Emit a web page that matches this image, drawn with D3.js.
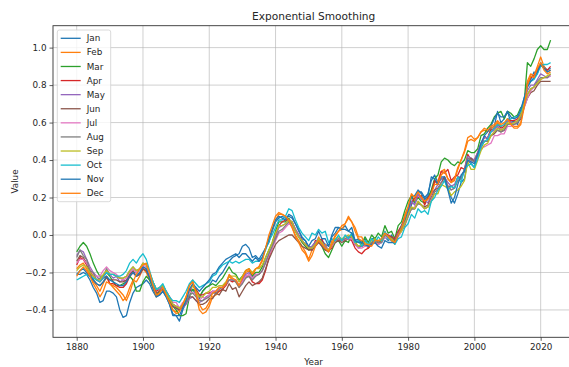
<!DOCTYPE html>
<html><head><meta charset="utf-8">
<script src="https://cdn.jsdelivr.net/npm/d3@7"></script>
<style>
html,body{margin:0;padding:0;background:#fff;overflow:hidden}
text{font-family:"DejaVu Sans",sans-serif;fill:#262626}
</style></head>
<body><svg id="c" width="569" height="367"></svg>
<script>
const firstYear = 1880, lastYear = 2023;
const months = ["Jan","Feb","Mar","Apr","May","Jun","Jul","Aug","Sep","Oct","Nov","Dec"];
const xTicks = [1880,1900,1920,1940,1960,1980,2000,2020];
const yTicks = [-0.4,-0.2,0.0,0.2,0.4,0.6,0.8,1.0];

const jan = [-0.21,-0.21,-0.20,-0.21,-0.24,-0.28,-0.31,-0.36,-0.35,-0.30,
-0.30,-0.31,-0.33,-0.40,-0.44,-0.43,-0.36,-0.31,-0.28,-0.27,
-0.26,-0.24,-0.26,-0.30,-0.33,-0.32,-0.30,-0.33,-0.37,-0.43,
-0.43,-0.46,-0.40,-0.36,-0.30,-0.29,-0.32,-0.34,-0.30,-0.28,
-0.27,-0.24,-0.25,-0.22,-0.20,-0.17,-0.14,-0.12,-0.11,-0.10,
-0.06,-0.05,-0.07,-0.12,-0.11,-0.13,-0.10,-0.07,-0.04,0.02,
0.07,0.09,0.10,0.09,0.10,0.09,0.06,0.03,-0.02,-0.03,
-0.07,-0.06,-0.04,-0.02,-0.03,-0.05,-0.06,0.00,0.04,0.04,
0.03,0.05,0.02,0.04,-0.03,-0.02,-0.04,-0.02,-0.06,-0.02,
-0.02,-0.05,-0.04,-0.01,-0.03,0.00,-0.04,0.01,0.03,0.08,
0.10,0.16,0.20,0.23,0.23,0.20,0.22,0.29,0.32,0.28,
0.30,0.30,0.25,0.20,0.17,0.22,0.28,0.30,0.40,0.38,
0.36,0.43,0.46,0.53,0.51,0.57,0.58,0.66,0.60,0.62,
0.66,0.60,0.61,0.59,0.64,0.71,0.81,0.83,0.87,0.86,
0.92,0.90,0.88,0.89];
const feb = [-0.18,-0.16,-0.15,-0.18,-0.21,-0.25,-0.27,-0.30,-0.26,-0.22,
-0.26,-0.28,-0.30,-0.32,-0.35,-0.33,-0.28,-0.24,-0.25,-0.22,
-0.18,-0.20,-0.24,-0.28,-0.33,-0.31,-0.28,-0.31,-0.35,-0.40,
-0.41,-0.40,-0.37,-0.33,-0.27,-0.24,-0.32,-0.40,-0.42,-0.41,
-0.38,-0.33,-0.32,-0.30,-0.29,-0.26,-0.22,-0.24,-0.25,-0.28,
-0.24,-0.20,-0.19,-0.22,-0.18,-0.17,-0.13,-0.07,-0.02,0.03,
0.08,0.11,0.11,0.10,0.07,0.04,0.00,-0.03,-0.06,-0.09,
-0.13,-0.08,-0.06,-0.01,-0.05,-0.05,-0.09,-0.03,-0.01,0.02,
0.03,0.06,0.09,0.07,0.02,-0.02,-0.03,-0.05,-0.07,-0.05,
-0.02,-0.05,-0.02,0.02,-0.02,-0.01,-0.05,0.02,0.04,0.11,
0.15,0.21,0.18,0.22,0.20,0.18,0.20,0.23,0.28,0.29,
0.34,0.35,0.30,0.28,0.29,0.35,0.40,0.45,0.52,0.53,
0.51,0.52,0.55,0.56,0.55,0.57,0.58,0.60,0.58,0.59,
0.62,0.60,0.58,0.58,0.60,0.70,0.82,0.86,0.85,0.90,
0.95,0.90,0.87,0.88];
const mar = [-0.09,-0.06,-0.04,-0.06,-0.10,-0.15,-0.19,-0.22,-0.22,-0.20,
-0.22,-0.25,-0.27,-0.27,-0.26,-0.25,-0.22,-0.24,-0.30,-0.30,
-0.25,-0.22,-0.24,-0.28,-0.32,-0.30,-0.28,-0.32,-0.35,-0.38,
-0.40,-0.43,-0.43,-0.42,-0.33,-0.29,-0.30,-0.33,-0.30,-0.28,
-0.27,-0.26,-0.27,-0.25,-0.23,-0.20,-0.17,-0.20,-0.21,-0.24,
-0.22,-0.19,-0.18,-0.22,-0.20,-0.20,-0.17,-0.12,-0.08,-0.04,
0.02,0.07,0.07,0.07,0.09,0.06,0.02,-0.01,-0.04,-0.06,
-0.08,-0.07,-0.05,-0.03,-0.06,-0.10,-0.12,-0.08,-0.04,-0.03,
-0.06,-0.03,-0.04,0.01,-0.05,-0.03,-0.05,-0.01,-0.04,0.00,
-0.02,0.01,-0.01,0.05,0.01,0.02,-0.02,0.05,0.07,0.13,
0.18,0.21,0.17,0.20,0.18,0.17,0.20,0.24,0.30,0.32,
0.39,0.41,0.40,0.38,0.37,0.39,0.38,0.40,0.45,0.44,
0.44,0.46,0.53,0.54,0.57,0.59,0.63,0.65,0.66,0.62,
0.66,0.65,0.63,0.64,0.68,0.70,0.92,0.90,0.94,0.99,
1.01,0.99,0.99,1.04];
const apr = [-0.16,-0.12,-0.13,-0.16,-0.19,-0.22,-0.24,-0.25,-0.23,-0.22,
-0.26,-0.26,-0.27,-0.28,-0.28,-0.26,-0.22,-0.20,-0.22,-0.21,
-0.18,-0.19,-0.22,-0.27,-0.30,-0.29,-0.27,-0.30,-0.33,-0.37,
-0.38,-0.40,-0.38,-0.35,-0.30,-0.27,-0.29,-0.32,-0.32,-0.31,
-0.31,-0.30,-0.31,-0.30,-0.29,-0.27,-0.24,-0.25,-0.24,-0.27,
-0.25,-0.22,-0.22,-0.25,-0.26,-0.26,-0.24,-0.19,-0.12,-0.07,
0.00,0.05,0.07,0.08,0.08,0.07,0.03,0.00,-0.03,-0.05,
-0.06,-0.08,-0.03,-0.03,-0.02,-0.08,-0.08,-0.07,-0.02,-0.03,
-0.03,-0.02,-0.02,-0.03,-0.07,-0.09,-0.10,-0.08,-0.07,-0.05,
-0.03,-0.04,-0.03,0.01,0.00,-0.01,-0.02,0.02,0.05,0.09,
0.14,0.17,0.20,0.20,0.21,0.16,0.20,0.22,0.29,0.27,
0.34,0.33,0.35,0.29,0.31,0.32,0.36,0.35,0.43,0.40,
0.40,0.44,0.49,0.52,0.52,0.56,0.57,0.59,0.57,0.58,
0.62,0.61,0.61,0.62,0.65,0.72,0.80,0.84,0.85,0.88,
0.91,0.89,0.88,0.90];
const may = [-0.11,-0.08,-0.09,-0.13,-0.17,-0.20,-0.22,-0.24,-0.22,-0.20,
-0.21,-0.23,-0.22,-0.25,-0.24,-0.25,-0.20,-0.20,-0.20,-0.21,
-0.17,-0.18,-0.21,-0.25,-0.29,-0.29,-0.28,-0.31,-0.34,-0.38,
-0.39,-0.40,-0.39,-0.37,-0.34,-0.33,-0.35,-0.36,-0.35,-0.33,
-0.32,-0.30,-0.30,-0.28,-0.28,-0.26,-0.24,-0.24,-0.24,-0.27,
-0.24,-0.21,-0.20,-0.23,-0.21,-0.21,-0.19,-0.14,-0.10,-0.06,
-0.01,0.04,0.05,0.06,0.08,0.07,0.03,0.00,-0.03,-0.05,
-0.07,-0.06,-0.04,-0.02,-0.04,-0.06,-0.08,-0.05,-0.03,-0.02,
-0.02,-0.02,-0.01,-0.02,-0.05,-0.07,-0.06,-0.05,-0.06,-0.04,
-0.03,-0.04,-0.03,0.01,-0.01,-0.02,-0.03,0.01,0.03,0.07,
0.11,0.18,0.16,0.22,0.19,0.19,0.17,0.22,0.24,0.27,
0.30,0.31,0.28,0.26,0.27,0.31,0.31,0.35,0.42,0.41,
0.40,0.44,0.49,0.52,0.52,0.55,0.56,0.58,0.56,0.57,
0.61,0.60,0.60,0.61,0.64,0.70,0.77,0.80,0.80,0.83,
0.86,0.85,0.84,0.85];
const jun = [-0.14,-0.11,-0.12,-0.15,-0.20,-0.24,-0.26,-0.27,-0.25,-0.23,
-0.24,-0.24,-0.24,-0.25,-0.25,-0.24,-0.21,-0.19,-0.22,-0.21,
-0.18,-0.19,-0.23,-0.27,-0.31,-0.30,-0.29,-0.32,-0.35,-0.38,
-0.39,-0.40,-0.38,-0.36,-0.33,-0.33,-0.35,-0.37,-0.37,-0.36,
-0.34,-0.34,-0.31,-0.32,-0.29,-0.30,-0.26,-0.29,-0.28,-0.33,
-0.30,-0.27,-0.25,-0.27,-0.26,-0.25,-0.23,-0.18,-0.13,-0.09,
-0.05,-0.03,-0.02,-0.01,0.00,0.00,-0.02,-0.04,-0.06,-0.07,
-0.08,-0.08,-0.06,-0.04,-0.06,-0.08,-0.09,-0.06,-0.04,-0.03,
-0.04,-0.03,-0.02,-0.02,-0.05,-0.06,-0.06,-0.05,-0.06,-0.04,
-0.03,-0.04,-0.03,0.00,-0.01,-0.01,-0.03,0.00,0.02,0.05,
0.10,0.14,0.14,0.17,0.16,0.15,0.16,0.20,0.24,0.25,
0.28,0.31,0.26,0.26,0.25,0.31,0.30,0.35,0.39,0.41,
0.39,0.43,0.47,0.50,0.50,0.53,0.54,0.56,0.55,0.56,
0.59,0.59,0.59,0.60,0.62,0.68,0.73,0.76,0.77,0.80,
0.82,0.82,0.82,0.82];
const jul = [-0.15,-0.13,-0.13,-0.15,-0.18,-0.21,-0.22,-0.22,-0.19,-0.17,
-0.19,-0.20,-0.21,-0.23,-0.24,-0.23,-0.20,-0.18,-0.20,-0.19,
-0.16,-0.17,-0.21,-0.25,-0.29,-0.28,-0.27,-0.30,-0.33,-0.36,
-0.36,-0.39,-0.36,-0.36,-0.30,-0.31,-0.31,-0.35,-0.33,-0.34,
-0.32,-0.30,-0.30,-0.28,-0.28,-0.26,-0.24,-0.24,-0.24,-0.27,
-0.25,-0.22,-0.21,-0.23,-0.21,-0.21,-0.19,-0.15,-0.11,-0.07,
-0.03,0.01,0.02,0.04,0.06,0.05,0.02,-0.01,-0.03,-0.05,
-0.07,-0.07,-0.05,-0.03,-0.05,-0.07,-0.08,-0.06,-0.03,-0.02,
-0.03,-0.02,-0.02,-0.02,-0.05,-0.07,-0.07,-0.06,-0.06,-0.05,
-0.04,-0.05,-0.04,-0.01,-0.02,-0.03,-0.04,-0.01,0.02,0.06,
0.10,0.14,0.15,0.18,0.16,0.14,0.15,0.19,0.23,0.24,
0.28,0.29,0.26,0.24,0.25,0.30,0.30,0.34,0.40,0.39,
0.39,0.41,0.47,0.47,0.48,0.49,0.53,0.53,0.54,0.54,
0.58,0.58,0.59,0.61,0.63,0.68,0.73,0.77,0.79,0.81,
0.83,0.84,0.84,0.85];
const aug = [-0.12,-0.08,-0.11,-0.13,-0.19,-0.20,-0.24,-0.23,-0.22,-0.18,
-0.21,-0.21,-0.22,-0.23,-0.23,-0.22,-0.19,-0.17,-0.19,-0.18,
-0.15,-0.16,-0.20,-0.25,-0.29,-0.28,-0.27,-0.30,-0.33,-0.37,
-0.38,-0.39,-0.38,-0.36,-0.32,-0.31,-0.33,-0.35,-0.35,-0.34,
-0.33,-0.31,-0.31,-0.29,-0.28,-0.26,-0.24,-0.24,-0.25,-0.28,
-0.26,-0.23,-0.22,-0.24,-0.22,-0.21,-0.19,-0.15,-0.10,-0.06,
-0.02,0.02,0.03,0.05,0.07,0.06,0.02,-0.01,-0.03,-0.05,
-0.07,-0.07,-0.05,-0.03,-0.05,-0.07,-0.08,-0.05,-0.03,-0.02,
-0.03,-0.02,-0.01,-0.01,-0.04,-0.06,-0.06,-0.05,-0.06,-0.04,
-0.03,-0.04,-0.04,0.00,-0.01,-0.02,-0.04,0.00,0.03,0.06,
0.10,0.14,0.14,0.17,0.16,0.14,0.15,0.18,0.23,0.24,
0.28,0.29,0.26,0.24,0.25,0.29,0.30,0.34,0.41,0.40,
0.39,0.43,0.47,0.50,0.50,0.53,0.55,0.56,0.55,0.56,
0.59,0.59,0.59,0.60,0.63,0.69,0.75,0.78,0.79,0.82,
0.84,0.84,0.84,0.86];
const sep = [-0.19,-0.17,-0.16,-0.17,-0.20,-0.22,-0.24,-0.24,-0.21,-0.19,
-0.21,-0.21,-0.22,-0.23,-0.23,-0.22,-0.19,-0.17,-0.19,-0.18,
-0.15,-0.16,-0.20,-0.25,-0.29,-0.28,-0.27,-0.31,-0.34,-0.37,
-0.38,-0.39,-0.37,-0.34,-0.29,-0.27,-0.30,-0.33,-0.33,-0.31,
-0.30,-0.28,-0.28,-0.27,-0.27,-0.25,-0.22,-0.22,-0.22,-0.25,
-0.22,-0.19,-0.18,-0.20,-0.18,-0.18,-0.16,-0.12,-0.08,-0.04,
0.01,0.05,0.05,0.06,0.08,0.07,0.02,-0.01,-0.03,-0.05,
-0.07,-0.07,-0.05,-0.02,-0.04,-0.07,-0.08,-0.05,-0.02,-0.01,
-0.02,-0.01,0.00,-0.01,-0.04,-0.06,-0.05,-0.04,-0.05,-0.03,
-0.02,-0.03,-0.03,0.01,-0.01,-0.02,-0.04,0.00,0.02,0.06,
0.11,0.15,0.14,0.18,0.16,0.14,0.15,0.18,0.22,0.22,
0.27,0.26,0.25,0.21,0.23,0.24,0.26,0.29,0.39,0.35,
0.35,0.40,0.45,0.48,0.49,0.53,0.55,0.57,0.56,0.57,
0.60,0.59,0.60,0.61,0.64,0.70,0.75,0.78,0.79,0.81,
0.83,0.84,0.85,0.86];
const oct = [-0.24,-0.23,-0.22,-0.21,-0.22,-0.23,-0.24,-0.25,-0.23,-0.20,
-0.21,-0.21,-0.22,-0.22,-0.21,-0.19,-0.15,-0.13,-0.15,-0.12,
-0.10,-0.13,-0.19,-0.25,-0.29,-0.28,-0.26,-0.30,-0.33,-0.35,
-0.35,-0.36,-0.33,-0.30,-0.26,-0.24,-0.26,-0.28,-0.27,-0.26,
-0.25,-0.22,-0.21,-0.18,-0.16,-0.15,-0.14,-0.15,-0.14,-0.15,
-0.14,-0.13,-0.13,-0.15,-0.14,-0.14,-0.12,-0.08,-0.03,0.00,
0.04,0.08,0.08,0.10,0.14,0.13,0.08,0.04,0.01,-0.01,
-0.03,0.01,0.00,0.03,0.01,0.02,-0.04,-0.02,-0.03,0.00,
-0.03,0.00,-0.02,0.01,-0.04,-0.03,-0.06,-0.03,-0.05,-0.02,
-0.04,-0.01,-0.03,0.02,-0.02,-0.03,-0.05,-0.02,-0.01,0.04,
0.06,0.11,0.09,0.14,0.12,0.13,0.11,0.18,0.20,0.24,
0.26,0.29,0.24,0.26,0.25,0.31,0.28,0.35,0.37,0.38,
0.36,0.41,0.47,0.50,0.51,0.55,0.57,0.59,0.58,0.59,
0.62,0.62,0.63,0.63,0.66,0.73,0.79,0.82,0.83,0.86,
0.90,0.91,0.91,0.92];
const nov = [-0.21,-0.19,-0.18,-0.20,-0.22,-0.24,-0.26,-0.27,-0.25,-0.22,
-0.24,-0.25,-0.26,-0.27,-0.27,-0.25,-0.22,-0.20,-0.22,-0.20,
-0.17,-0.18,-0.23,-0.28,-0.33,-0.32,-0.30,-0.33,-0.37,-0.42,
-0.43,-0.43,-0.39,-0.35,-0.29,-0.26,-0.28,-0.30,-0.28,-0.26,
-0.24,-0.21,-0.20,-0.17,-0.15,-0.13,-0.12,-0.11,-0.10,-0.12,
-0.10,-0.10,-0.12,-0.14,-0.12,-0.14,-0.12,-0.07,-0.02,0.03,
0.08,0.10,0.09,0.08,0.11,0.10,0.06,0.02,-0.01,-0.03,
-0.06,-0.03,-0.02,0.02,-0.02,-0.02,-0.06,-0.01,0.01,0.04,
0.03,0.03,0.02,0.01,-0.03,-0.04,-0.04,-0.05,-0.06,-0.05,
-0.04,-0.06,-0.07,-0.03,-0.04,-0.04,-0.04,0.00,0.05,0.08,
0.13,0.20,0.21,0.24,0.22,0.19,0.21,0.31,0.30,0.27,
0.31,0.31,0.24,0.17,0.20,0.27,0.32,0.34,0.40,0.39,
0.38,0.43,0.49,0.53,0.55,0.58,0.62,0.65,0.63,0.63,
0.66,0.63,0.62,0.63,0.67,0.73,0.79,0.82,0.84,0.87,
0.91,0.89,0.87,0.88];
const dec = [-0.22,-0.19,-0.17,-0.19,-0.22,-0.26,-0.29,-0.33,-0.30,-0.25,
-0.26,-0.27,-0.28,-0.30,-0.32,-0.35,-0.31,-0.25,-0.21,-0.18,
-0.16,-0.15,-0.20,-0.27,-0.32,-0.31,-0.28,-0.32,-0.36,-0.40,
-0.42,-0.41,-0.37,-0.33,-0.27,-0.25,-0.31,-0.37,-0.40,-0.39,
-0.36,-0.31,-0.30,-0.28,-0.28,-0.26,-0.21,-0.23,-0.24,-0.27,
-0.23,-0.19,-0.18,-0.21,-0.18,-0.17,-0.14,-0.07,0.00,0.05,
0.10,0.12,0.11,0.10,0.08,0.04,-0.01,-0.04,-0.08,-0.10,
-0.14,-0.11,-0.06,-0.03,-0.05,-0.07,-0.09,-0.05,0.00,0.02,
0.05,0.06,0.10,0.07,0.04,-0.01,-0.01,-0.05,-0.05,-0.06,
-0.03,-0.03,-0.02,0.01,-0.01,-0.03,-0.04,0.00,0.04,0.09,
0.15,0.22,0.20,0.23,0.20,0.18,0.19,0.22,0.27,0.27,
0.32,0.34,0.30,0.28,0.30,0.36,0.40,0.44,0.50,0.51,
0.50,0.52,0.55,0.57,0.56,0.58,0.59,0.61,0.59,0.60,
0.62,0.59,0.57,0.57,0.59,0.68,0.80,0.85,0.84,0.89,
0.92,0.88,0.86,0.87];

const seriesValues = [jan,feb,mar,apr,may,jun,jul,aug,sep,oct,nov,dec];
const colors = ["#1f77b4","#ff7f0e","#2ca02c","#d62728","#9467bd","#8c564b","#e377c2","#7f7f7f","#bcbd22","#17becf","#1f77b4","#ff7f0e"];
const years = d3.range(firstYear, lastYear + 1);

const svg = d3.select("#c");
const L = 53, R = 574.3, T = 25.7, B = 337.3;
const x = d3.scaleLinear().domain([1872.85, 2030.15]).range([L, R]);
const y = d3.scaleLinear().domain([-0.546, 1.117]).range([B, T]);

svg.append("defs").append("clipPath").attr("id","pc")
  .append("rect").attr("x",L).attr("y",T).attr("width",R-L).attr("height",B-T);

const grid = svg.append("g");
grid.selectAll(".gx").data(xTicks).enter().append("line")
  .attr("x1",d=>x(d)).attr("x2",d=>x(d)).attr("y1",T).attr("y2",B)
  .attr("stroke","#b0b0b0").attr("stroke-opacity",0.6).attr("stroke-width",1);
grid.selectAll(".gy").data(yTicks).enter().append("line")
  .attr("x1",L).attr("x2",R).attr("y1",d=>y(d)).attr("y2",d=>y(d))
  .attr("stroke","#b0b0b0").attr("stroke-opacity",0.6).attr("stroke-width",1);

const line = d3.line().x((d,i)=>x(years[i])).y(d=>y(d));
const lg = svg.append("g").attr("clip-path","url(#pc)");
seriesValues.forEach((vals,k)=>{
  lg.append("path").attr("d",line(vals)).attr("fill","none")
    .attr("stroke",colors[k]).attr("stroke-width",1.3).attr("stroke-linejoin","round");
});

const fmt = d => d3.format(".1f")(d).replace("-","\u2212");
const xAxis = d3.axisBottom(x).tickValues(xTicks).tickFormat(d3.format("d")).tickSize(3.5).tickPadding(3);
const yAxis = d3.axisLeft(y).tickValues(yTicks).tickFormat(fmt).tickSize(3.5).tickPadding(3);
const gx = svg.append("g").attr("transform",`translate(0,${B})`).call(xAxis);
const gy = svg.append("g").attr("transform",`translate(${L},0)`).call(yAxis);
[gx,gy].forEach(g=>{
  g.select(".domain").remove();
  g.selectAll(".tick line").attr("stroke","#333").attr("stroke-width",0.8);
  g.selectAll(".tick text").attr("font-size","8.8px").attr("font-family","DejaVu Sans").attr("fill","#262626");
});

svg.append("rect").attr("x",L).attr("y",T).attr("width",R-L).attr("height",B-T)
  .attr("fill","none").attr("stroke","#333").attr("stroke-width",0.9);

svg.append("text").attr("x",(L+R)/2).attr("y",19.8).attr("text-anchor","middle")
  .attr("font-size","10.6px").text("Exponential Smoothing");
svg.append("text").attr("x",(L+R)/2).attr("y",364.5).attr("text-anchor","middle")
  .attr("font-size","8.8px").text("Year");
svg.append("text").attr("transform",`translate(17.5,${(T+B)/2}) rotate(-90)`).attr("text-anchor","middle")
  .attr("font-size","8.8px").text("Value");

const leg = svg.append("g");
leg.append("rect").attr("x",57.3).attr("y",30).attr("width",53.4).attr("height",171.7)
  .attr("rx",2).attr("fill","#fff").attr("fill-opacity",0.8).attr("stroke","#d0d0d0").attr("stroke-width",0.8);
months.forEach((m,k)=>{
  const yy = 38.3 + k*14.09;
  leg.append("line").attr("x1",60.7).attr("x2",80.7).attr("y1",yy).attr("y2",yy)
    .attr("stroke",colors[k]).attr("stroke-width",1.3);
  leg.append("text").attr("x",86.7).attr("y",yy+3.1).attr("font-size","8.8px").text(m);
});
</script></body></html>
